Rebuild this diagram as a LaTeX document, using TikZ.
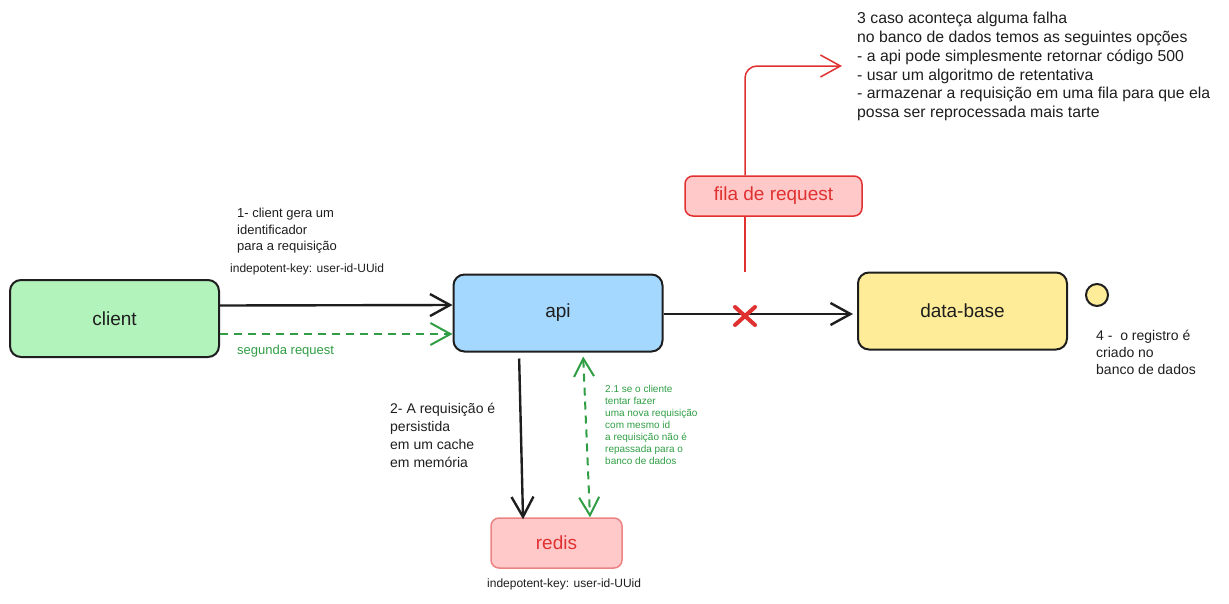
\documentclass[tikz,border=0pt]{standalone}
\usepackage{fontspec}
\setmainfont{Liberation Sans}
\usetikzlibrary{arrows.meta}
\definecolor{ink}{HTML}{1E1E1E}
\definecolor{clientfill}{HTML}{B2F2BB}
\definecolor{apifill}{HTML}{A5D8FF}
\definecolor{dbfill}{HTML}{FFEC99}
\definecolor{redfill}{HTML}{FFC9C9}
\definecolor{failred}{HTML}{E03131}
\definecolor{okgreen}{HTML}{2F9E44}
\newcommand{\fsz}[2]{\fontsize{#1}{#2}\selectfont}
\begin{document}
\begin{tikzpicture}[x=1pt,y=-1pt,
  box/.style={draw=ink,line width=2pt,rounded corners=11pt,minimum width=209pt,minimum height=77pt,text=ink,font=\fsz{19}{22}},
  redbox/.style={box,draw=failred,line width=1.5pt,fill=redfill,text=failred,rounded corners=8pt},
  note/.style={anchor=north west,align=left,inner sep=0pt,text=ink},
  barb/.style={-{Straight Barb[length=20pt,width=22pt]}},
  flow/.style={barb,draw=ink,line width=2.4pt},
  retry/.style={draw=okgreen,line width=2pt,dash pattern=on 8pt off 6pt}]
\useasboundingbox (0,0) rectangle (1229,603);

% boxes
\node[box,fill=clientfill] (client) at (114.5,318.5) {client};
\node[box,fill=apifill] (api) at (558,313) {api};
\node[box,fill=dbfill] (database) at (962.5,311) {data-base};
\node[redbox,minimum width=177pt,minimum height=40pt] (fila) at (773.5,196) {fila de request};
\node[redbox,minimum width=131pt,minimum height=50pt,draw=failred!60] (redis) at (556.5,543) {redis};
\node[circle,draw=ink,line width=2pt,fill=dbfill,minimum size=22pt,inner sep=0pt] (dot) at (1097,295) {};

\coordinate (cut) at (745,272);
\coordinate (fail) at (745,316);
\coordinate (opts) at (842,66);

% connectors
\draw[flow] ([yshift=13pt]client.east) -- ([yshift=8pt]api.west);
\draw[retry,barb] ([yshift=-15.5pt]client.east) -- ([yshift=-21pt]api.west);
\draw[flow,shorten >=4pt] ([yshift=-1pt]api.east) -- ([yshift=-3pt]database.west);
\draw[flow,shorten <=6pt,shorten >=-2pt] ([xshift=-39pt]api.south) -- ([xshift=-33.5pt]redis.north);
\draw[retry,{Straight Barb[length=18pt,width=20pt]}-{Straight Barb[length=18pt,width=20pt]},shorten <=4pt] ([xshift=25pt]api.south) -- ([xshift=33.5pt]redis.north);
\draw[failred,line width=1.5pt] (cut) -- ([xshift=-28.5pt]fila.south);
\draw[failred,line width=1.5pt,barb,rounded corners=12pt] ([xshift=-28.5pt]fila.north) |- (opts);
\draw[failred,line width=4pt,line cap=round] ([shift={(-10,-9)}]fail) -- ([shift={(10,9)}]fail)
  ([shift={(-10,9)}]fail) -- ([shift={(10,-9)}]fail);

% texts
\node[note,font=\fsz{13}{16.5}] (step1) at (237,208) {1- client gera um\\identificador\\para a requisição};
\node[note,font=\fsz{12}{14}] (key1) at (230,264) {indepotent-key: user-id-UUid};
\node[note,font=\fsz{13}{15},text=okgreen] (second) at (237,345) {segunda request};
\node[note,font=\fsz{14}{18}] (step2) at (390,403) {2- A requisição é\\persistida\\em um cache\\em memória};
\node[note,font=\fsz{10}{12},text=okgreen] (step21) at (605,385) {2.1 se o cliente\\tentar fazer\\uma nova requisição\\com mesmo id\\a requisição não é\\repassada para o\\banco de dados};
\node[note,font=\fsz{12}{14}] (key2) at (487,579) {indepotent-key: user-id-UUid};
\node[note,font=\fsz{15.8}{18.8}] (step3) at (857,12) {3 caso aconteça alguma falha\\no banco de dados temos as seguintes opções\\- a api pode simplesmente retornar código 500\\- usar um algoritmo de retentativa\\- armazenar a requisição em uma fila para que ela\\possa ser reprocessada mais tarte};
\node[note,font=\fsz{14}{17}] (step4) at (1096,330) {4 -~ o registro é\\criado no\\banco de dados};
\end{tikzpicture}
\end{document}
